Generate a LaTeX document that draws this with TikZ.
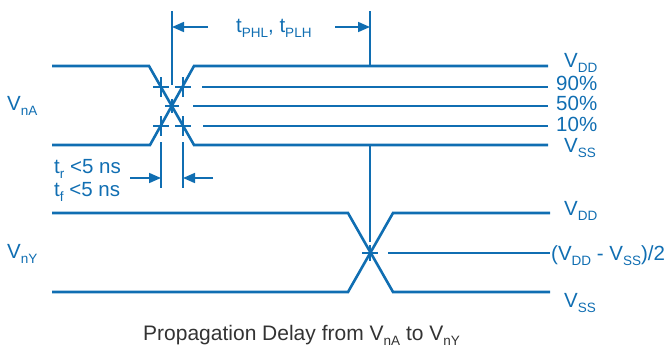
\documentclass[tikz,border=0pt]{standalone}
\usepackage{fontspec}
\setmainfont{Liberation Sans}
\usetikzlibrary{arrows.meta}
\definecolor{sigblue}{RGB}{16,110,178}
\definecolor{capgray}{RGB}{51,51,51}
\newcommand\lo[1]{\raisebox{-5pt}{\fontsize{13.5}{13.5}\selectfont #1}}
\tikzset{wave/.style={sigblue, line width=2.6pt},
  guide/.style={sigblue, line width=1.7pt},
  pin/.style={guide, -{Triangle[length=12pt,width=10pt]}},
  lbl/.style={sigblue, anchor=base west, inner sep=0pt, font=\fontsize{20.5}{24}\selectfont}}

\begin{document}
\begin{tikzpicture}[x=1pt,y=-1pt]
  \useasboundingbox (0,0) rectangle (670,348);
  % input waveform
  \coordinate (xa) at (172,106);
  \draw[wave] (52,66) -- (149,66) -- (194,145) -- (548,145);
  \draw[wave] (52,145) -- (150,145) -- (194,66) -- (548,66);
  \draw[wave] (202,87) -- (548,87);
  \draw[wave] (193,106) -- (548,106);
  \draw[wave] (203,126) -- (548,126);
  \foreach \x/\y in {161/87, 183/87, 161/126, 183/126}{\draw[guide] (\x-8,\y) -- (\x+8,\y) (\x,\y-10) -- (\x,\y+10);}
  \draw[guide] (165,106) -- (179,106) (172,99) -- (172,113);
  % output waveform
  \coordinate (xy) at (370,253);
  \draw[wave] (52,213) -- (348,213) -- (393,292) -- (550,292);
  \draw[wave] (52,292) -- (348,292) -- (393,213) -- (550,213);
  \draw[wave] (388,253) -- (550,253);
  \draw[guide] (362,253) -- (378,253) (370,245) -- (370,261);
  % delay markers
  \coordinate (da) at (172,27);
  \coordinate (dy) at (370,27);
  \draw[guide] (172,11) -- (172,85);
  \draw[guide] (370,11) -- (370,66) (370,145) -- (370,242);
  \draw[pin] (208,27) -- (da);
  \draw[pin] (335,27) -- (dy);
  % rise / fall markers
  \coordinate (ra) at (161,178);
  \coordinate (rb) at (183,178);
  \draw[guide] (161,142) -- (161,188) (183,142) -- (183,188);
  \draw[pin] (130,178) -- (ra);
  \draw[pin] (213,178) -- (rb);
  % labels
  \node[lbl] (vdda) at (564,67) {V\lo{DD}};
  \node[lbl] (p90) at (556,90) {90\%};
  \node[lbl] (p50) at (556,110) {50\%};
  \node[lbl] (p10) at (556,131) {10\%};
  \node[lbl] (vssa) at (564,152) {V\lo{SS}};
  \node[lbl] (vddy) at (564,215) {V\lo{DD}};
  \node[lbl] (half) at (551,260) {(V\lo{DD} - V\lo{SS})/2};
  \node[lbl] (vssy) at (564,307) {V\lo{SS}};
  \node[lbl] (vna) at (7,110) {V\lo{nA}};
  \node[lbl] (vny) at (7,258) {V\lo{nY}};
  \node[lbl] (tp) at (236,32) {t\lo{PHL}, t\lo{PLH}};
  \node[lbl] (tr) at (54,173) {t\lo{r} <5 ns};
  \node[lbl] (tf) at (54,196) {t\lo{f} <5 ns};
  \node[lbl, capgray, font=\fontsize{21}{24}\selectfont] (cap) at (143,340) {Propagation Delay from V\lo{nA} to V\lo{nY}};
\end{tikzpicture}
\end{document}
